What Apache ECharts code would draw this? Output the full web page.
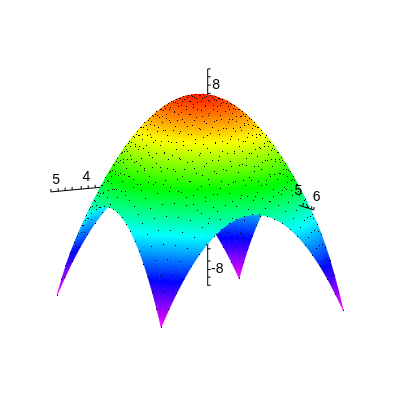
<!DOCTYPE html>
<html><head><meta charset="utf-8">
<style>html,body{margin:0;padding:0;background:#fff}#c{width:400px;height:400px}</style>
<script src="https://cdn.jsdelivr.net/npm/echarts@6/dist/echarts.min.js"></script>
</head><body><div id="c"></div>
<script>
const xGrid=[-2.94,-2.69,-2.44,-2.19,-1.94,-1.69,-1.44,-1.19,-0.94,-0.69,-0.44,-0.19,0.06,0.31,0.56,0.81,1.06,1.31,1.56,1.81,2.06,2.31,2.56,2.81,3.06];
const yGrid=[-3.33,-3.08,-2.83,-2.58,-2.33,-2.08,-1.83,-1.58,-1.33,-1.08,-0.83,-0.58,-0.33,-0.08,0.17,0.42,0.67,0.92,1.17,1.42,1.67,1.92,2.17,2.42,2.67];
const zRows=[
[-11,-9.56,-8.25,-7.06,-6,-5.06,-4.25,-3.56,-3,-2.56,-2.25,-2.06,-2,-2.06,-2.25,-2.56,-3,-3.56,-4.25,-5.06,-6,-7.06,-8.25,-9.56,-11],
[-9.56,-8.12,-6.81,-5.62,-4.56,-3.62,-2.81,-2.12,-1.56,-1.12,-0.81,-0.62,-0.56,-0.62,-0.81,-1.12,-1.56,-2.12,-2.81,-3.62,-4.56,-5.62,-6.81,-8.12,-9.56],
[-8.25,-6.81,-5.5,-4.31,-3.25,-2.31,-1.5,-0.81,-0.25,0.19,0.5,0.69,0.75,0.69,0.5,0.19,-0.25,-0.81,-1.5,-2.31,-3.25,-4.31,-5.5,-6.81,-8.25],
[-7.06,-5.62,-4.31,-3.12,-2.06,-1.12,-0.31,0.38,0.94,1.38,1.69,1.88,1.94,1.88,1.69,1.38,0.94,0.38,-0.31,-1.12,-2.06,-3.12,-4.31,-5.62,-7.06],
[-6,-4.56,-3.25,-2.06,-1,-0.06,0.75,1.44,2,2.44,2.75,2.94,3,2.94,2.75,2.44,2,1.44,0.75,-0.06,-1,-2.06,-3.25,-4.56,-6],
[-5.06,-3.62,-2.31,-1.12,-0.06,0.88,1.69,2.38,2.94,3.38,3.69,3.88,3.94,3.88,3.69,3.38,2.94,2.38,1.69,0.88,-0.06,-1.12,-2.31,-3.62,-5.06],
[-4.25,-2.81,-1.5,-0.31,0.75,1.69,2.5,3.19,3.75,4.19,4.5,4.69,4.75,4.69,4.5,4.19,3.75,3.19,2.5,1.69,0.75,-0.31,-1.5,-2.81,-4.25],
[-3.56,-2.12,-0.81,0.38,1.44,2.38,3.19,3.88,4.44,4.88,5.19,5.38,5.44,5.38,5.19,4.88,4.44,3.88,3.19,2.38,1.44,0.38,-0.81,-2.12,-3.56],
[-3,-1.56,-0.25,0.94,2,2.94,3.75,4.44,5,5.44,5.75,5.94,6,5.94,5.75,5.44,5,4.44,3.75,2.94,2,0.94,-0.25,-1.56,-3],
[-2.56,-1.12,0.19,1.38,2.44,3.38,4.19,4.88,5.44,5.88,6.19,6.38,6.44,6.38,6.19,5.88,5.44,4.88,4.19,3.38,2.44,1.38,0.19,-1.12,-2.56],
[-2.25,-0.81,0.5,1.69,2.75,3.69,4.5,5.19,5.75,6.19,6.5,6.69,6.75,6.69,6.5,6.19,5.75,5.19,4.5,3.69,2.75,1.69,0.5,-0.81,-2.25],
[-2.06,-0.62,0.69,1.88,2.94,3.88,4.69,5.38,5.94,6.38,6.69,6.88,6.94,6.88,6.69,6.38,5.94,5.38,4.69,3.88,2.94,1.88,0.69,-0.62,-2.06],
[-2,-0.56,0.75,1.94,3,3.94,4.75,5.44,6,6.44,6.75,6.94,7,6.94,6.75,6.44,6,5.44,4.75,3.94,3,1.94,0.75,-0.56,-2],
[-2.06,-0.62,0.69,1.88,2.94,3.88,4.69,5.38,5.94,6.38,6.69,6.88,6.94,6.88,6.69,6.38,5.94,5.38,4.69,3.88,2.94,1.88,0.69,-0.62,-2.06],
[-2.25,-0.81,0.5,1.69,2.75,3.69,4.5,5.19,5.75,6.19,6.5,6.69,6.75,6.69,6.5,6.19,5.75,5.19,4.5,3.69,2.75,1.69,0.5,-0.81,-2.25],
[-2.56,-1.12,0.19,1.38,2.44,3.38,4.19,4.88,5.44,5.88,6.19,6.38,6.44,6.38,6.19,5.88,5.44,4.88,4.19,3.38,2.44,1.38,0.19,-1.12,-2.56],
[-3,-1.56,-0.25,0.94,2,2.94,3.75,4.44,5,5.44,5.75,5.94,6,5.94,5.75,5.44,5,4.44,3.75,2.94,2,0.94,-0.25,-1.56,-3],
[-3.56,-2.12,-0.81,0.38,1.44,2.38,3.19,3.88,4.44,4.88,5.19,5.38,5.44,5.38,5.19,4.88,4.44,3.88,3.19,2.38,1.44,0.38,-0.81,-2.12,-3.56],
[-4.25,-2.81,-1.5,-0.31,0.75,1.69,2.5,3.19,3.75,4.19,4.5,4.69,4.75,4.69,4.5,4.19,3.75,3.19,2.5,1.69,0.75,-0.31,-1.5,-2.81,-4.25],
[-5.06,-3.62,-2.31,-1.12,-0.06,0.88,1.69,2.38,2.94,3.38,3.69,3.88,3.94,3.88,3.69,3.38,2.94,2.38,1.69,0.88,-0.06,-1.12,-2.31,-3.62,-5.06],
[-6,-4.56,-3.25,-2.06,-1,-0.06,0.75,1.44,2,2.44,2.75,2.94,3,2.94,2.75,2.44,2,1.44,0.75,-0.06,-1,-2.06,-3.25,-4.56,-6],
[-7.06,-5.62,-4.31,-3.12,-2.06,-1.12,-0.31,0.38,0.94,1.38,1.69,1.88,1.94,1.88,1.69,1.38,0.94,0.38,-0.31,-1.12,-2.06,-3.12,-4.31,-5.62,-7.06],
[-8.25,-6.81,-5.5,-4.31,-3.25,-2.31,-1.5,-0.81,-0.25,0.19,0.5,0.69,0.75,0.69,0.5,0.19,-0.25,-0.81,-1.5,-2.31,-3.25,-4.31,-5.5,-6.81,-8.25],
[-9.56,-8.12,-6.81,-5.62,-4.56,-3.62,-2.81,-2.12,-1.56,-1.12,-0.81,-0.62,-0.56,-0.62,-0.81,-1.12,-1.56,-2.12,-2.81,-3.62,-4.56,-5.62,-6.81,-8.12,-9.56],
[-11,-9.56,-8.25,-7.06,-6,-5.06,-4.25,-3.56,-3,-2.56,-2.25,-2.06,-2,-2.06,-2.25,-2.56,-3,-3.56,-4.25,-5.06,-6,-7.06,-8.25,-9.56,-11]
];
const xTicks=[5.17,4.93,4.7,4.47,4.17,3.94,3.71];
const yTicks=[5.5,5.75,6,6.13];
const zTicks=[9.4,8.72,8,7.28,-6.2,-7.26,-8,-8.66,-9.36];
const xLabels=["5","4"], xLabelValues=[5,4];
const yLabels=["6","5"], yLabelValues=[6,5];
const zLabels=["8","-8"], zLabelValues=[8,-8];

// orthographic view of the box: plane position per data unit
const ORIGIN=[207.7,177.3], PX=[-30.33,2.83], PY=[17.33,5.33], PZ=[0,-11.53];
const project=(x,y,z)=>[ORIGIN[0]+x*PX[0]+y*PY[0]+z*PZ[0], ORIGIN[1]+x*PX[1]+y*PY[1]+z*PZ[1]];
const Z_TOP=7, Z_BOTTOM=-11, HUE_TOP=8, HUE_BOTTOM=300;

function hueColor(h){
  h=((h%360)+360)%360; const k=h/60, s=Math.floor(k)%6, f=k-Math.floor(k);
  const r=[[1,f,0],[1-f,1,0],[0,1,f],[0,1-f,1],[f,0,1],[1,0,1-f]][s];
  return 'rgb('+r.map(v=>Math.round(v*255)).join(',')+')';
}
const zHue=z=>HUE_TOP+(HUE_BOTTOM-HUE_TOP)*(Z_TOP-z)/(Z_TOP-Z_BOTTOM);

function triFill(p,z){
  const e1=[p[1][0]-p[0][0],p[1][1]-p[0][1]], e2=[p[2][0]-p[0][0],p[2][1]-p[0][1]];
  const d1=z[1]-z[0], d2=z[2]-z[0], det=e1[0]*e2[1]-e1[1]*e2[0];
  const lo=Math.min(z[0],z[1],z[2]), hi=Math.max(z[0],z[1],z[2]);
  if(Math.abs(det)<1e-4||hi-lo<1e-6) return hueColor(zHue((lo+hi)/2));
  const a=(d1*e2[1]-d2*e1[1])/det, b=(e1[0]*d2-e2[0]*d1)/det, g=a*a+b*b;
  if(!isFinite(g)||g<1e-9) return hueColor(zHue((lo+hi)/2));
  const at=v=>[p[0][0]+a*(v-z[0])/g, p[0][1]+b*(v-z[0])/g];
  const s=at(lo), t=at(hi), stops=[{offset:0,color:hueColor(zHue(lo))}];
  const h0=zHue(lo), h1=zHue(hi);
  for(let h=Math.ceil(Math.min(h0,h1)/60)*60;h<Math.max(h0,h1);h+=60){
    stops.push({offset:(h0-h)/(h0-h1),color:hueColor(h)});
  }
  stops.push({offset:1,color:hueColor(zHue(hi))});
  return {type:'linear',global:true,x:s[0],y:s[1],x2:t[0],y2:t[1],colorStops:stops};
}

const cells=[], nodes=[];
for(let i=0;i<xGrid.length-1;i++)for(let j=0;j<yGrid.length-1;j++)cells.push([i,j]);
for(let i=0;i<xGrid.length;i++)for(let j=0;j<yGrid.length;j++)nodes.push([i,j]);
// far to near: x and y both grow toward the viewer
cells.sort((a,b)=>(yGrid[a[1]]+xGrid[a[0]])-(yGrid[b[1]]+xGrid[b[0]]));

function renderSurface(params,api){
  const i=api.value(0), j=api.value(1);
  const v=(a,b)=>api.coord(project(xGrid[a],yGrid[b],zRows[a][b]));
  const zz=(a,b)=>zRows[a][b];
  const A=v(i,j),B=v(i+1,j),C=v(i+1,j+1),D=v(i,j+1);
  const tri=(P,Z)=>{const f=triFill(P,Z);return {type:'polygon',shape:{points:P},style:{fill:f,stroke:f,lineWidth:0.7},silent:true};};
  return {type:'group',children:[tri([A,B,C],[zz(i,j),zz(i+1,j),zz(i+1,j+1)]),tri([A,C,D],[zz(i,j),zz(i+1,j+1),zz(i,j+1)])]};
}
function renderDot(params,api){
  const i=api.value(0), j=api.value(1);
  const p=api.coord(project(xGrid[i],yGrid[j],zRows[i][j]));
  return {type:'rect',shape:{x:Math.floor(p[0]),y:Math.floor(p[1]),width:1,height:1},style:{fill:'#000'},silent:true};
}

function seg(a,b){return {type:'line',shape:{x1:a[0],y1:a[1],x2:b[0],y2:b[1]},style:{stroke:'#000',lineWidth:1,fill:null},silent:true};}
function txt(s,p,dx,dy){return {type:'text',style:{text:s,x:p[0]+dx,y:p[1]+dy,fill:'#000',font:'14px "Liberation Sans"',align:'center',verticalAlign:'middle'},silent:true};}

function axesBack(params,api){
  const k=[], c=q=>api.coord(q);
  k.push(seg(c(project(5.17,0,0)),c(project(0,0,0))));
  xTicks.forEach(t=>{const p=c(project(t,0,0));k.push(seg(p,[p[0],p[1]-3]));});
  k.push(seg(c(project(0,0,9.4)),c(project(0,0,-9.4))));
  zTicks.forEach(t=>{const p=c(project(0,0,t));k.push(seg(p,[p[0]+3,p[1]]));});
  xLabels.forEach((s,n)=>k.push(txt(s,c(project(xLabelValues[n],0,0)),0,-11)));
  zLabels.forEach((s,n)=>k.push(txt(s,c(project(0,0,zLabelValues[n])),n?9.5:8.5,0)));
  k.push(txt(yLabels[0],c(project(0,yLabelValues[0],0)),5,-12.6));
  return {type:'group',children:k};
}
function axesFront(params,api){
  const k=[], c=q=>api.coord(q);
  k.push(seg(c(project(0,5.3,0)),c(project(0,6.13,0))));
  yTicks.forEach(t=>{const p=c(project(0,t,0));k.push(seg(p,[p[0],p[1]-3]));});
  k.push(txt(yLabels[1],c(project(0,yLabelValues[1],0)),4,-13));
  return {type:'group',children:k};
}

const chart=echarts.init(document.getElementById('c'),null,{renderer:'canvas'});
chart.setOption({
  animation:false,backgroundColor:'#fff',
  grid:{left:0,top:0,width:400,height:400},
  xAxis:{type:'value',min:0,max:400,show:false},
  yAxis:{type:'value',min:0,max:400,inverse:true,show:false},
  tooltip:{show:false},
  series:[
    {type:'custom',coordinateSystem:'cartesian2d',renderItem:axesBack,data:[[0,0]],z:1,clip:false,silent:true},
    {type:'custom',coordinateSystem:'cartesian2d',renderItem:renderSurface,data:cells,encode:{x:0,y:1},z:2,clip:false,silent:true,progressive:0},
    {type:'custom',coordinateSystem:'cartesian2d',renderItem:renderDot,data:nodes,encode:{x:0,y:1},z:3,clip:false,silent:true,progressive:0},
    {type:'custom',coordinateSystem:'cartesian2d',renderItem:axesFront,data:[[0,0]],z:4,clip:false,silent:true}
  ]
});
</script></body></html>
